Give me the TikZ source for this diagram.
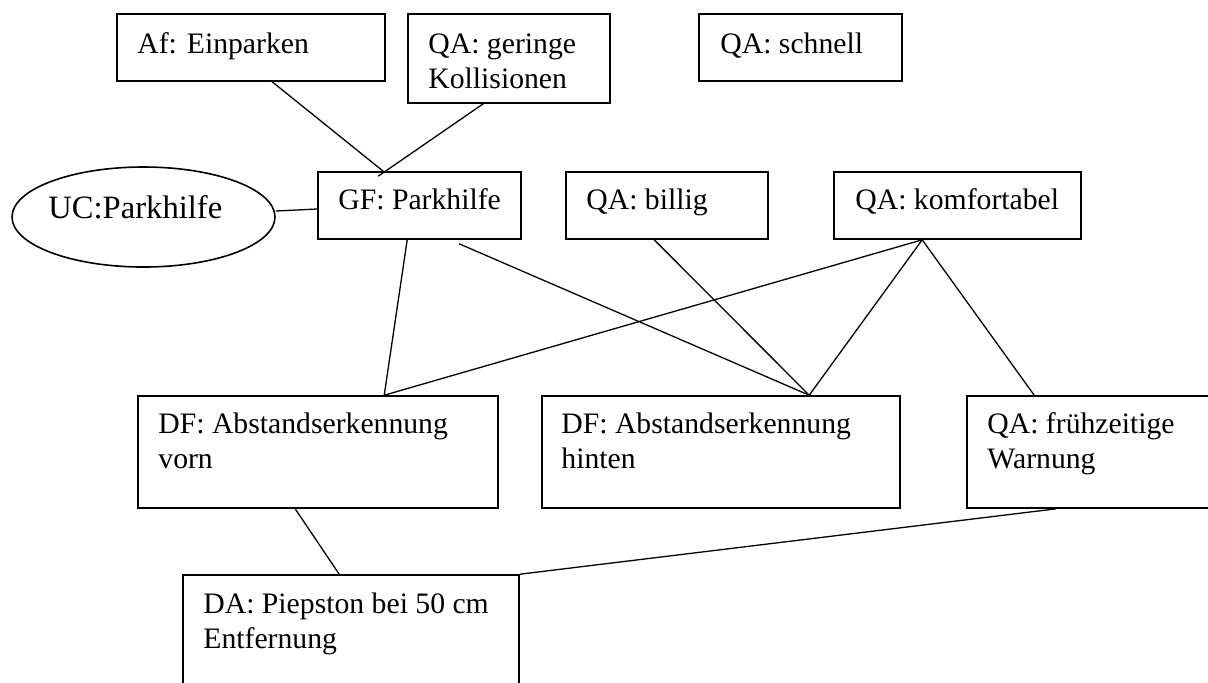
\documentclass[tikz,border=0pt]{standalone}
\usepackage{fontspec}
\setmainfont{Liberation Serif}
\usetikzlibrary{shapes.geometric,fit,calc}
\begin{document}
\begin{tikzpicture}[x=0.5pt,y=-0.5pt,
  box/.style={draw, line width=0.8pt, inner sep=0pt},
  conn/.style={line width=0.65pt},
  lbl/.style={anchor=base west, inner sep=0pt, align=left, font=\fontsize{14.85pt}{17.5pt}\selectfont}]
\useasboundingbox (0,0) rectangle (1208,682);
% boxes
\node[box, fit={(117,14)(385,81)}] (af) {};
\node[box, fit={(408,14)(610,103)}] (gk) {};
\node[box, fit={(699,14)(902,81)}] (sc) {};
\node[box, fit={(318,172)(521,239)}] (gf) {};
\node[box, fit={(566,172)(768,239)}] (bi) {};
\node[box, fit={(834,172)(1081,239)}] (ko) {};
\node[box, fit={(138,396)(498,508)}] (dfv) {};
\node[box, fit={(542,396)(900,508)}] (dfh) {};
\node[box, fit={(967,396)(1230,508)}] (fw) {};
\node[box, fit={(183,575)(519,700)}] (da) {};
\node[draw, ellipse, line width=0.8pt, inner sep=0pt, minimum width=131.5pt, minimum height=50pt] (uc) at (143.5,217) {};
% labels (anchor = baseline of the last line)
\node[lbl] (taf) at (137,53) {Af: Einparken};
\node[lbl] (tgk) at (428,88) {QA: geringe\\Kollisionen};
\node[lbl] (tsc) at (720,53) {QA: schnell};
\node[lbl] (tgf) at (338,209) {GF: Parkhilfe};
\node[lbl] (tbi) at (586,209) {QA: billig};
\node[lbl] (tko) at (855,209) {QA: komfortabel};
\node[lbl, font=\fontsize{16.3pt}{19pt}\selectfont] (tuc) at (48,218) {UC:Parkhilfe};
\node[lbl] (tdfv) at (158,468) {DF: Abstandserkennung\\vorn};
\node[lbl] (tdfh) at (561,468) {DF: Abstandserkennung\\hinten};
\node[lbl] (tfw) at (987,468) {QA: frühzeitige\\Warnung};
\node[lbl] (tda) at (203,648) {DA: Piepston bei 50 cm\\Entfernung};
% connectors
\draw[conn] ($(af.south west)+(156,0)$) -- ($(gf.north west)+(66,0)$);
\draw[conn] ($(gk.south west)+(76,0)$) -- ($(gf.north west)+(61,5)$);
\draw[conn] ($(uc.east)+(0,-6)$) -- ($(gf.west)+(0,3.5)$);
\draw[conn] ($(gf.south west)+(90,0)$) -- ($(dfv.north west)+(247,0)$);
\draw[conn] ($(gf.south west)+(142,4)$) -- ($(dfh.north west)+(268,0)$);
\draw[conn] ($(bi.south west)+(89,0)$) -- ($(dfh.north west)+(268,0)$);
\draw[conn] ($(ko.south west)+(89,0)$) -- ($(dfv.north west)+(247,0)$);
\draw[conn] ($(ko.south west)+(89,0)$) -- ($(dfh.north west)+(268,0)$);
\draw[conn] ($(ko.south west)+(89,0)$) -- ($(fw.north west)+(68,0)$);
\draw[conn] ($(dfv.south west)+(158,0)$) -- ($(da.north west)+(157,0)$);
\draw[conn] ($(fw.south west)+(90,0)$) -- (da.north east);
\end{tikzpicture}
\end{document}
